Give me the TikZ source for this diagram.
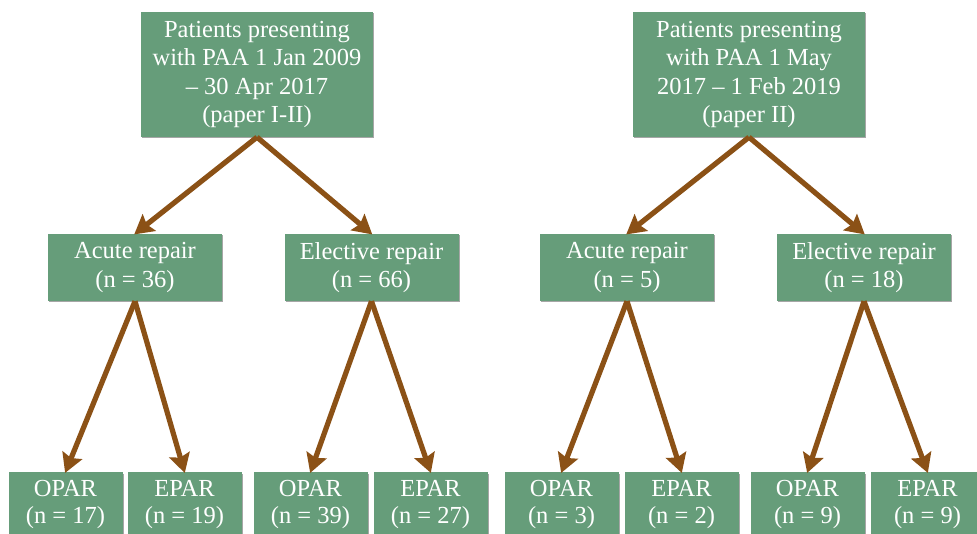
\documentclass[tikz,border=0pt]{standalone}
\usepackage{fontspec}
\setmainfont{Liberation Serif}
\usetikzlibrary{arrows.meta,shadows}
\definecolor{boxgreen}{RGB}{102,157,122}
\definecolor{arrbrown}{RGB}{139,81,22}
\tikzset{
  gbox/.style={draw=none, fill=boxgreen, text=white, align=center, inner sep=0pt,
    font=\fontsize{24.5}{28.5}\selectfont,
    drop shadow={shadow xshift=1.2pt, shadow yshift=-1.5pt, opacity=0.35, fill=black}},
  topbox/.style={gbox, minimum width=232pt, minimum height=125pt},
  midbox/.style={gbox, minimum width=174pt, minimum height=67pt},
  botbox/.style={gbox, minimum width=114pt, minimum height=64pt, anchor=north,
    font=\fontsize{24.5}{27}\selectfont},
  arr/.style={draw=arrbrown, line width=5.2pt,
    -{Stealth[inset=3pt, length=19pt, width=21pt, fill=arrbrown]}, shorten >=-1pt}
}
\begin{document}
\begin{tikzpicture}[x=1pt, y=-1pt]
\clip (0,0) rectangle (977,534);
\fill[white] (0,0) rectangle (977,534);
% top
\node[topbox] (t1) at (257,74.5) {Patients presenting\\with PAA 1 Jan 2009\\– 30 Apr 2017\\(paper I-II)};
\node[topbox] (t2) at (749,74.5) {Patients presenting\\with PAA 1 May\\2017 – 1 Feb 2019\\(paper II)};
% middle
\node[midbox] (a1) at (135,267.5) {Acute repair\\(n = 36)};
\node[midbox] (e1) at (371.5,267.5) {Elective repair\\(n = 66)};
\node[midbox] (a2) at (627,267.5) {Acute repair\\(n = 5)};
\node[midbox] (e2) at (864,267.5) {Elective repair\\(n = 18)};
% bottom
\node[botbox] (o1) at (65.5,472) {OPAR\\(n = 17)};
\node[botbox] (p1) at (184.5,472) {EPAR\\(n = 19)};
\node[botbox] (o2) at (310.5,472) {OPAR\\(n = 39)};
\node[botbox] (p2) at (430.5,472) {EPAR\\(n = 27)};
\node[botbox] (o3) at (561.5,472) {OPAR\\(n = 3)};
\node[botbox] (p3) at (681.5,472) {EPAR\\(n = 2)};
\node[botbox] (o4) at (807.5,472) {OPAR\\(n = 9)};
\node[botbox] (p4) at (927.5,472) {EPAR\\(n = 9)};
% arrows
\draw[arr] (t1.south) -- (a1.north);
\draw[arr] (t1.south) -- (e1.north);
\draw[arr] (t2.south) -- (a2.north);
\draw[arr] (t2.south) -- (e2.north);
\draw[arr] (a1.south) -- (o1.north);
\draw[arr] (a1.south) -- (p1.north);
\draw[arr] (e1.south) -- (o2.north);
\draw[arr] (e1.south) -- (p2.north);
\draw[arr] (a2.south) -- (o3.north);
\draw[arr] (a2.south) -- (p3.north);
\draw[arr] (e2.south) -- (o4.north);
\draw[arr] (e2.south) -- (p4.north);
\end{tikzpicture}
\end{document}
